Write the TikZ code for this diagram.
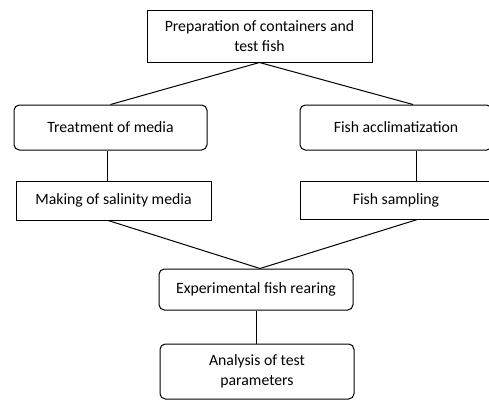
\documentclass[tikz,border=0pt]{standalone}
\usepackage{fontspec}
\setmainfont{Carlito}
\usetikzlibrary{positioning}

\begin{document}
\begin{tikzpicture}[x=0.75pt, y=-0.75pt, line width=0.75pt,
	box/.style={draw, align=center, inner sep=2pt,
		font=\fontsize{11.8}{15}\selectfont},
	roundbox/.style={box, rounded corners=4pt}]
	\useasboundingbox (0,0) rectangle (489,401);
	\node[box, minimum width=168.75pt, minimum height=39pt] (prep) at (259.5,36)
		{Preparation of containers and\\test fish};
	\node[roundbox, minimum width=144.75pt, minimum height=33.75pt] (treat) at (110.5,127.5)
		{Treatment of media};
	\node[roundbox, minimum width=144pt, minimum height=33.75pt] (accl) at (396,127.5)
		{Fish acclimatization};
	\node[box, minimum width=146.25pt, minimum height=29.25pt] (salt) at (113.5,200.5)
		{Making of salinity media};
	\node[box, minimum width=144pt, minimum height=28.5pt] (samp) at (396,200)
		{Fish sampling};
	\node[roundbox, minimum width=145.5pt, minimum height=30.75pt] (rear) at (256,289.5)
		{Experimental fish rearing};
	\node[roundbox, minimum width=145.5pt, minimum height=41.25pt] (anal) at (257,371.5)
		{Analysis of test\\parameters};
	% links
	\draw (prep.south) -- (treat.north);
	\draw (prep.south) -- ([xshift=12.75pt]accl.north);
	\draw ([xshift=-2pt]treat.south) -- ([xshift=-2pt]treat.south |- salt.north);
	\draw ([xshift=15pt]accl.south) -- ([xshift=15pt]accl.south |- samp.north);
	\draw ([xshift=-4pt]salt.south) -- ([xshift=3pt]rear.north);
	\draw ([xshift=16pt]samp.south) -- ([xshift=3pt]rear.north);
	\draw (rear.south) -- (rear.south |- anal.north);
\end{tikzpicture}
\end{document}
